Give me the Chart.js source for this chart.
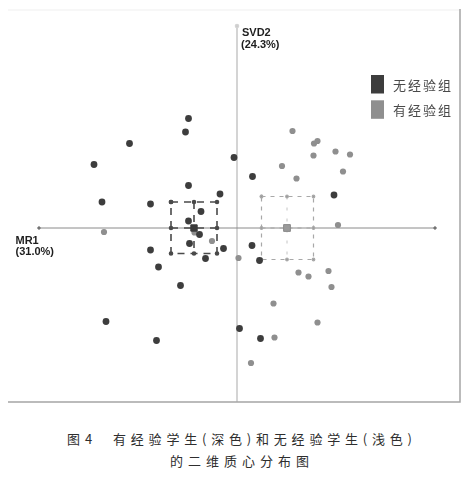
<!DOCTYPE html>
<html><head><meta charset="utf-8">
<script src="https://cdn.jsdelivr.net/npm/chart.js@4/dist/chart.umd.min.js"></script>
<style>
html,body{margin:0;padding:0;background:#fff;width:470px;height:485px;overflow:hidden;}
#wrap{position:absolute;left:0;top:0;width:470px;height:410px;}
.cap{position:absolute;font-family:"Noto Sans CJK SC",sans-serif;font-size:13px;color:#2e2e2e;letter-spacing:4.8px;white-space:nowrap;line-height:16px;}
</style></head><body>
<div id="wrap"><canvas id="c" width="470" height="410"></canvas></div>
<div class="cap" style="left:67px;top:431px;letter-spacing:1px;">图 4</div>
<div class="cap" style="left:113px;top:431px;">有经验学生(深色)和无经验学生(浅色)</div>
<div class="cap" style="left:170px;top:453px;letter-spacing:5px;">的二维质心分布图</div>
<script>
// ---- data (MR1 = x, SVD2 = y, arbitrary units) ----
const groupLabels = ['无经验组', '有经验组'];
const axisNames = ['MR1', '(31.0%)', 'SVD2', '(24.3%)'];

const darkX = [-0.97,-1.03,-2.15,-0.06,-2.86,0.31,-0.97,-0.34,1.94,-2.70,-1.73,-0.72,-0.97,-0.75,-0.95,-1.73,-0.27,0.30,-0.63,-1.57,0.45,-1.13,-2.62,-1.61,0.05,0.47];
const darkY = [2.19,1.92,1.69,1.41,1.27,1.03,0.85,0.68,0.66,0.52,0.48,0.33,0.14,-0.13,-0.31,-0.44,-0.41,-0.35,-0.61,-0.78,-0.65,-1.15,-1.87,-2.25,-2.01,-2.21];

const lightX = [1.11,1.54,1.61,1.53,1.97,2.26,0.90,2.12,1.19,2.02,-2.66,-0.50,-0.85,0.03,1.23,1.43,1.83,1.89,0.73,1.61,0.75,0.28];
const lightY = [1.94,1.69,1.74,1.45,1.53,1.47,1.24,1.13,0.99,0.06,-0.08,-0.26,-0.09,-0.60,-0.89,-0.97,-0.86,-1.18,-1.51,-1.89,-2.19,-2.70];

const centroidX = [-0.86, 1.00];
const centroidY = [0.00, 0.00];
const ciX = [[-1.32, -0.40], [0.49, 1.53]];
const ciY = [[-0.51, 0.52], [-0.63, 0.63]];

const axisXRange = [-3.96, 3.96];
const axisYTop = 4.04;
const axisYBottom = -3.48;

// ---- helpers ----
const pts = (xs, ys) => xs.map((x, i) => ({x, y: ys[i]}));
function boxPath(g){
  const [x0,x1] = ciX[g], [y0,y1] = ciY[g], xm = centroidX[g], ym = centroidY[g];
  return [{x:x0,y:y1},{x:xm,y:y1},{x:x1,y:y1},{x:x1,y:ym},{x:x1,y:y0},{x:xm,y:y0},{x:x0,y:y0},{x:x0,y:ym},{x:x0,y:y1}];
}
const vMid = g => [{x:centroidX[g],y:ciY[g][1]},{x:centroidX[g],y:ciY[g][0]}];
const hMid = g => [{x:ciX[g][0],y:centroidY[g]},{x:ciX[g][1],y:centroidY[g]}];

const DARK = '#3d3d3d', LIGHT = '#8f8f8f';

const decor = {
  id: 'decor',
  beforeDatasetsDraw(chart){
    const {ctx, chartArea:a} = chart;
    ctx.save();
    ctx.strokeStyle = '#efefef'; ctx.lineWidth = 1;
    ctx.beginPath(); ctx.moveTo(a.left, a.top + 1); ctx.lineTo(a.right, a.top + 1); ctx.stroke();
    ctx.restore();
  },
  afterDraw(chart){
    const {ctx, chartArea:a, scales} = chart;
    const xs = scales.x, ys = scales.y;
    ctx.save();
    ctx.strokeStyle = '#a5a5a5'; ctx.lineWidth = 1.5;
    ctx.beginPath(); ctx.moveTo(a.left, a.bottom); ctx.lineTo(a.right, a.bottom); ctx.lineTo(a.right, a.top); ctx.stroke();

    const cx = xs.getPixelForValue(0), cy = ys.getPixelForValue(0), top = ys.getPixelForValue(axisYTop);
    ctx.fillStyle = '#1e1e1e';
    ctx.font = 'bold 11px "Liberation Sans", Arial, sans-serif';
    ctx.textBaseline = 'alphabetic'; ctx.textAlign = 'left';
    ctx.fillText(axisNames[2], cx + 5, top + 10);
    ctx.fillText(axisNames[3], cx + 4, top + 21.5);
    ctx.fillText(axisNames[0], 15.5, cy + 15.5);
    ctx.fillText(axisNames[1], 15.5, cy + 27);

    // legend
    const lx = a.right - 89, colors = [DARK, LIGHT];
    ctx.font = '13px "Noto Sans CJK SC", sans-serif';
    ctx.textBaseline = 'middle';
    groupLabels.forEach((lab, i) => {
      const ty = 75 + i * 25.3;
      ctx.fillStyle = colors[i];
      ctx.fillRect(lx, ty, 13, 18.5);
      ctx.fillStyle = '#4a4a4a';
      let tx = lx + 22;
      for (const ch of lab){ ctx.fillText(ch, tx, ty + 10); tx += 15; }
    });
    ctx.restore();
  }
};

new Chart(document.getElementById('c'), {
  type: 'scatter',
  data: {
    datasets: [
      {label:'c0', data: pts([centroidX[0]],[centroidY[0]]), pointStyle:'rect', pointRadius:4.5, backgroundColor:'#3a3a3a', borderColor:'#3a3a3a', order:0},
      {label:'c1', data: pts([centroidX[1]],[centroidY[1]]), pointStyle:'rect', pointRadius:4.8, backgroundColor:'#9a9a9a', borderColor:'#8a8a8a', borderWidth:1, order:0},
      {label:groupLabels[0], data: pts(darkX, darkY), pointRadius:3.4, backgroundColor:DARK, borderWidth:0, order:1},
      {label:groupLabels[1], data: pts(lightX, lightY), pointRadius:3.1, backgroundColor:LIGHT, borderWidth:0, order:2},
      {label:'b0', data: boxPath(0), showLine:true, borderColor:'#4a4a4a', borderWidth:1.6, borderDash:[7,6], pointRadius:1.5, backgroundColor:'#4a4a4a', order:3},
      {label:'b0v', data: vMid(0), showLine:true, borderColor:'#4a4a4a', borderWidth:1.6, borderDash:[7,6], pointRadius:0, order:3},
      {label:'b0h', data: hMid(0), showLine:true, borderColor:'#4a4a4a', borderWidth:1.6, borderDash:[7,6], pointRadius:0, order:3},
      {label:'b1', data: boxPath(1), showLine:true, borderColor:'#a8a8a8', borderWidth:1.2, borderDash:[4,5], pointRadius:1.3, backgroundColor:'#9a9a9a', order:3},
      {label:'b1v', data: vMid(1), showLine:true, borderColor:'#c4c4c4', borderWidth:1, borderDash:[3,8], pointRadius:0, order:3},
      {label:'b1h', data: hMid(1), showLine:true, borderColor:'#a8a8a8', borderWidth:1.2, borderDash:[4,5], pointRadius:0, order:3},
      {label:'axX', data: [{x:axisXRange[0],y:0},{x:axisXRange[1],y:0}], showLine:true, borderColor:'#8a8a8a', borderWidth:1, pointRadius:1.3, backgroundColor:'#555', order:4},
      {label:'axY', data: [{x:0,y:axisYTop},{x:0,y:axisYBottom}], showLine:true, borderColor:'#d4d4d4', borderWidth:2, pointRadius:[1.3,0], backgroundColor:'#777', order:5}
    ]
  },
  options: {
    responsive:false, animation:false, devicePixelRatio:1,
    layout:{padding:{left:8,right:10,top:9,bottom:8}},
    scales:{
      x:{type:'linear', display:false, min:-4.58, max:4.46},
      y:{type:'linear', display:false, min:-3.48, max:4.38}
    },
    plugins:{legend:{display:false}, tooltip:{enabled:false}},
    elements:{line:{tension:0}}
  },
  plugins:[decor]
});
</script>
</body></html>
